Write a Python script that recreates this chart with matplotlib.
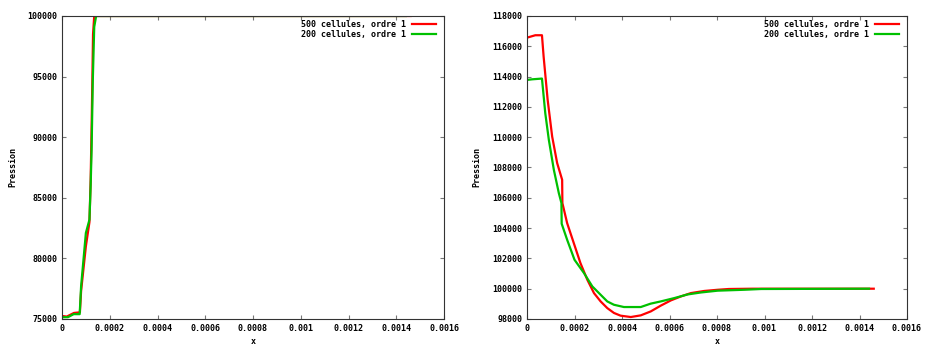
import matplotlib
matplotlib.use("Agg")
import matplotlib.pyplot as plt

# left panel: 500 cellules
x_left_500 = [0, 0.00002, 0.00005, 0.000075, 0.00008, 0.0001, 0.000115, 0.00012,
              0.000125, 0.00013, 0.000135, 0.00146]
p_left_500 = [75250, 75200, 75500, 75550, 77300, 81000, 83000, 86500,
              92000, 98500, 100000, 100000]
# left panel: 200 cellules
x_left_200 = [0, 0.000025, 0.000049, 0.000074, 0.00008, 0.0001, 0.000115, 0.00012,
              0.000124, 0.000129, 0.000135, 0.000143, 0.00144]
p_left_200 = [75150, 75150, 75400, 75400, 77700, 82100, 83200, 86000,
              89000, 94700, 99100, 100000, 100000]

# right panel: 500 cellules
x_right_500 = [0, 0.000035, 0.000063, 0.00007, 0.000087, 0.000106, 0.000127, 0.000148,
               0.000149, 0.000169, 0.000197, 0.000225, 0.000254, 0.000282, 0.00031,
               0.000338, 0.000366, 0.000394, 0.000437, 0.000479, 0.000521, 0.000563,
               0.000606, 0.000648, 0.00069, 0.000746, 0.000803, 0.00085, 0.00095, 0.00146]
p_right_500 = [116570, 116730, 116730, 115320, 112460, 110040, 108290, 107190,
               105650, 104330, 103010, 101690, 100590, 99710, 99160,
               98720, 98400, 98220, 98130, 98240, 98500, 98880,
               99230, 99490, 99710, 99850, 99930, 99980, 100000, 100000]
# right panel: 200 cellules
x_right_200 = [0, 0.000021, 0.000063, 0.000077, 0.000092, 0.000113, 0.000134, 0.000145,
               0.000146, 0.000169, 0.0002, 0.00024, 0.000275, 0.00031, 0.000338,
               0.000366, 0.000408, 0.000479, 0.00052, 0.000563, 0.00062, 0.000676,
               0.000732, 0.000803, 0.000915, 0.000986, 0.00144]
p_right_200 = [113780, 113820, 113870, 111580, 109820, 107850, 106310, 105650,
               104290, 103230, 101910, 101030, 100150, 99600, 99160,
               98940, 98790, 98790, 99010, 99160, 99380, 99620,
               99750, 99870, 99930, 99980, 100000]

x_ticks = [0, 0.0002, 0.0004, 0.0006, 0.0008, 0.001, 0.0012, 0.0014, 0.0016]
x_tick_labels = ["0", "0.0002", "0.0004", "0.0006", "0.0008", "0.001", "0.0012", "0.0014", "0.0016"]
y_ticks_left = [75000, 80000, 85000, 90000, 95000, 100000]
y_ticks_right = [98000, 100000, 102000, 104000, 106000, 108000, 110000, 112000, 114000, 116000, 118000]

label_500 = "500 cellules, ordre 1"
label_200 = "200 cellules, ordre 1"

font = dict(family="DejaVu Sans Mono", weight="bold", size=6)

fig = plt.figure(figsize=(9.25, 3.49), dpi=100)
ax1 = fig.add_axes([62 / 925, 30 / 349, 382 / 925, 303 / 349])
ax2 = fig.add_axes([527 / 925, 30 / 349, 380 / 925, 303 / 349])


def style(ax, yticks, ylim):
    ax.set_xlim(0, 0.0016)
    ax.set_ylim(*ylim)
    ax.set_xticks(x_ticks)
    ax.set_xticklabels(x_tick_labels, fontdict=font)
    ax.set_yticks(yticks)
    ax.set_yticklabels([str(v) for v in yticks], fontdict=font)
    ax.tick_params(direction="in", length=3, width=0.8, color="#777777",
                   top=True, right=True, pad=3.5)
    for s in ax.spines.values():
        s.set_color("#333333")
        s.set_linewidth(0.8)
    ax.set_xlabel("x", fontdict=font)
    ax.set_ylabel("Pression", fontdict=font)
    ax.xaxis.set_label_coords(0.5, -0.058)
    leg = ax.legend(loc="upper right", bbox_to_anchor=(0.99, 1.0), frameon=False,
                    markerfirst=False,
                    prop=dict(family="DejaVu Sans Mono", weight="bold", size=6),
                    handlelength=2.9, handletextpad=0.7, labelspacing=0.15,
                    borderaxespad=0.2, borderpad=0.3)
    return leg


ax1.plot(x_left_500, p_left_500, color="#ff0000", lw=1.6, label=label_500)
ax1.plot(x_left_200, p_left_200, color="#00c000", lw=1.6, label=label_200)
style(ax1, y_ticks_left, (75000, 100000))
ax1.yaxis.set_label_coords(-0.118, 0.5)

ax2.plot(x_right_500, p_right_500, color="#ff0000", lw=1.6, label=label_500)
ax2.plot(x_right_200, p_right_200, color="#00c000", lw=1.6, label=label_200)
style(ax2, y_ticks_right, (98000, 118000))
ax2.yaxis.set_label_coords(-0.121, 0.5)

fig.savefig("out.png", dpi=100)
